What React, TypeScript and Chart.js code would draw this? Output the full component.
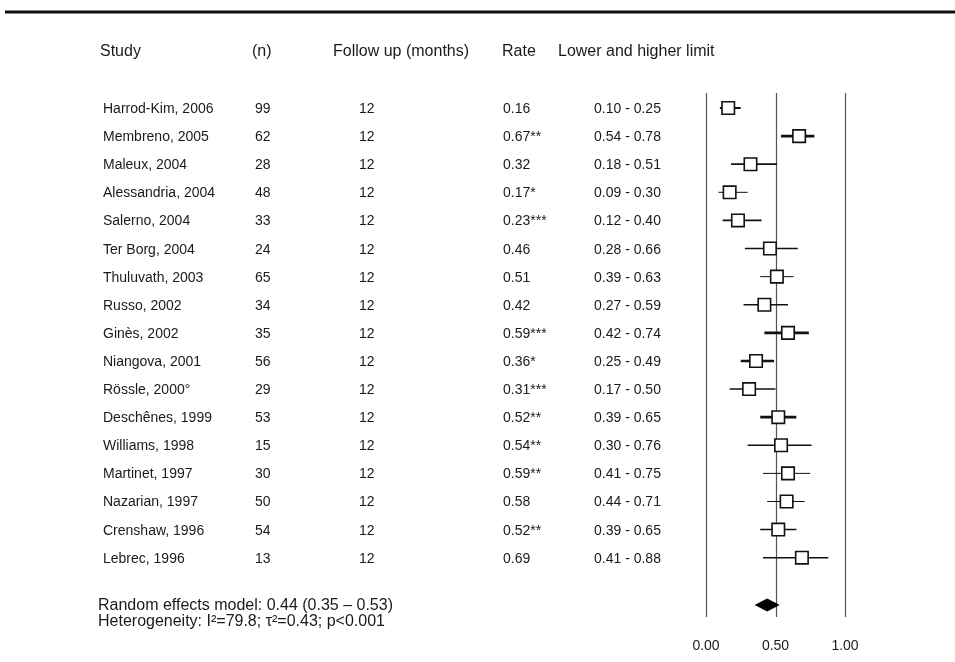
import React, { useEffect, useRef } from "react";
import { Chart, registerables } from "chart.js";

Chart.register(...registerables);

const studies = [
  "Harrod-Kim, 2006", "Membreno, 2005", "Maleux, 2004", "Alessandria, 2004", "Salerno, 2004",
  "Ter Borg, 2004", "Thuluvath, 2003", "Russo, 2002", "Ginès, 2002", "Niangova, 2001",
  "Rössle, 2000°", "Deschênes, 1999", "Williams, 1998", "Martinet, 1997", "Nazarian, 1997",
  "Crenshaw, 1996", "Lebrec, 1996",
];
const sampleSizes = [99, 62, 28, 48, 33, 24, 65, 34, 35, 56, 29, 53, 15, 30, 50, 54, 13];
const followUpMonths = [12, 12, 12, 12, 12, 12, 12, 12, 12, 12, 12, 12, 12, 12, 12, 12, 12];
const rates = [0.16, 0.67, 0.32, 0.17, 0.23, 0.46, 0.51, 0.42, 0.59, 0.36, 0.31, 0.52, 0.54, 0.59, 0.58, 0.52, 0.69];
const significance = ["", "**", "", "*", "***", "", "", "", "***", "*", "***", "**", "**", "**", "", "**", ""];
const lowerLimits = [0.10, 0.54, 0.18, 0.09, 0.12, 0.28, 0.39, 0.27, 0.42, 0.25, 0.17, 0.39, 0.30, 0.41, 0.44, 0.39, 0.41];
const upperLimits = [0.25, 0.78, 0.51, 0.30, 0.40, 0.66, 0.63, 0.59, 0.74, 0.49, 0.50, 0.65, 0.76, 0.75, 0.71, 0.65, 0.88];
const pooledRate = 0.44;
const pooledLower = 0.35;
const pooledUpper = 0.53;
const xTicks = [0, 0.5, 1];
const xTickLabels = ["0.00", "0.50", "1.00"];
const headers = ["Study", "(n)", "Follow up (months)", "Rate", "Lower and higher limit"];
const summaryLines = [
  "Random effects model: 0.44 (0.35 – 0.53)",
  "Heterogeneity: I²=79.8; τ²=0.43; p<0.001",
];

// styles (not data)
const ciWidths = [2, 2.6, 1.8, 1, 1.8, 1.6, 1, 1.5, 2.6, 2.6, 1.5, 2.6, 1.5, 1, 1, 1.5, 1.5];
const FONT = '"Liberation Sans", Arial, sans-serif';

export default function App() {
  const canvasRef = useRef<HTMLCanvasElement | null>(null);

  useEffect(() => {
    const canvas = canvasRef.current;
    if (!canvas) return;

    const forestPlugin = {
      id: "forest",
      beforeDatasetsDraw(chart: any) {
        const ctx = chart.ctx;
        const xs = chart.scales.x;
        const ys = chart.scales.y;
        const area = chart.chartArea;
        ctx.save();
        // top rule
        ctx.strokeStyle = "#111";
        ctx.lineWidth = 3;
        ctx.beginPath();
        ctx.moveTo(5, 12);
        ctx.lineTo(955, 12);
        ctx.stroke();
        // vertical reference lines
        ctx.strokeStyle = "#555";
        ctx.lineWidth = 1.2;
        xTicks.forEach((t) => {
          const px = Math.round(xs.getPixelForValue(t)) + 0.5;
          ctx.beginPath();
          ctx.moveTo(px, area.top);
          ctx.lineTo(px, area.bottom);
          ctx.stroke();
        });
        // CI lines
        ctx.strokeStyle = "#111";
        studies.forEach((_, i) => {
          const y = ys.getPixelForValue(i);
          ctx.lineWidth = ciWidths[i];
          ctx.beginPath();
          ctx.moveTo(xs.getPixelForValue(lowerLimits[i]), y);
          ctx.lineTo(xs.getPixelForValue(upperLimits[i]), y);
          ctx.stroke();
        });
        // pooled diamond
        const dy = ys.getPixelForValue(17.68);
        const xl = xs.getPixelForValue(pooledLower);
        const xr = xs.getPixelForValue(pooledUpper);
        const xc = xs.getPixelForValue(pooledRate);
        ctx.fillStyle = "#000";
        ctx.beginPath();
        ctx.moveTo(xl, dy);
        ctx.lineTo(xc, dy - 6.5);
        ctx.lineTo(xr, dy);
        ctx.lineTo(xc, dy + 6.5);
        ctx.closePath();
        ctx.fill();

        // texts
        ctx.fillStyle = "#1a1a1a";
        ctx.textBaseline = "alphabetic";
        ctx.textAlign = "left";
        ctx.font = `16px ${FONT}`;
        const headerX = [100, 252, 333, 502, 558];
        headers.forEach((h, k) => ctx.fillText(h, headerX[k], 56));

        ctx.font = `14px ${FONT}`;
        studies.forEach((s, i) => {
          const base = ys.getPixelForValue(i) + 5;
          ctx.fillText(s, 103, base);
          ctx.fillText(String(sampleSizes[i]), 255, base);
          ctx.fillText(String(followUpMonths[i]), 359, base);
          ctx.fillText(rates[i].toFixed(2) + significance[i], 503, base);
          ctx.fillText(lowerLimits[i].toFixed(2) + " - " + upperLimits[i].toFixed(2), 594, base);
        });

        // x tick labels
        ctx.textAlign = "center";
        ctx.font = `14px ${FONT}`;
        xTicks.forEach((t, k) => ctx.fillText(xTickLabels[k], xs.getPixelForValue(t), 650));

        // summary
        ctx.textAlign = "left";
        ctx.font = `16px ${FONT}`;
        ctx.fillText(summaryLines[0], 98, 610);
        ctx.fillText(summaryLines[1], 98, 626);
        ctx.restore();
      },
    };

    const chart = new Chart(canvas, {
      type: "scatter",
      data: {
        datasets: [
          {
            data: rates.map((r, i) => ({ x: r, y: i })),
            pointStyle: "rect",
            pointRadius: 8.8,
            pointHoverRadius: 8.8,
            pointBorderWidth: 1.6,
            pointBorderColor: "#111",
            pointBackgroundColor: "#fff",
            showLine: false,
          },
        ],
      },
      options: {
        animation: false,
        responsive: true,
        maintainAspectRatio: false,
        events: [],
        layout: { padding: { left: 706, right: 110, top: 93, bottom: 45 } },
        plugins: { legend: { display: false }, tooltip: { enabled: false } },
        scales: {
          x: { type: "linear", min: 0, max: 1, display: false },
          y: { type: "linear", min: -0.534, max: 18.11, reverse: true, display: false },
        },
      },
      plugins: [forestPlugin],
    });
    return () => chart.destroy();
  }, []);

  return (
    <div style={{ position: "absolute", left: 0, top: 0, width: 955, height: 662, background: "#fff" }}>
      <canvas ref={canvasRef} />
    </div>
  );
}
